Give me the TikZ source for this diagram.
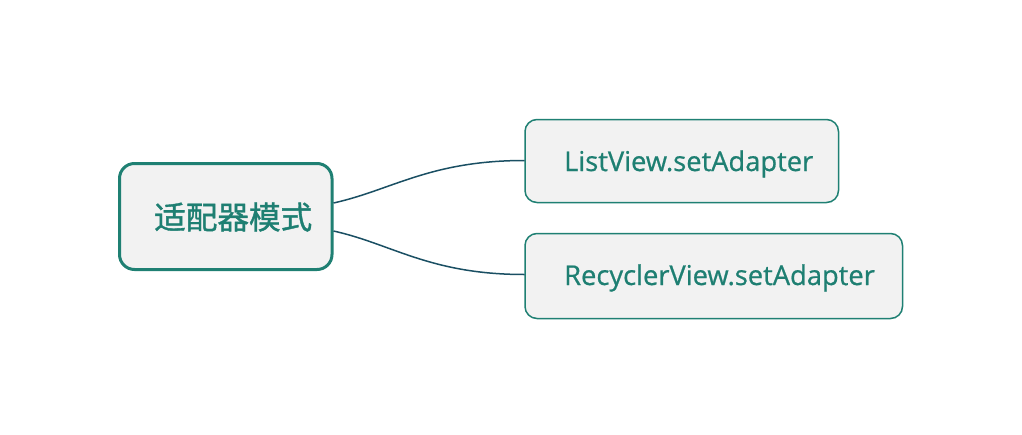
\documentclass[tikz,border=0pt]{standalone}
\usepackage{fontspec}
\setmainfont{Open Sans}
\newfontfamily\lblfont[FakeBold=0.7]{Open Sans}
\newfontfamily\cjk[FakeBold=1.2]{Noto Sans CJK SC}
\definecolor{teal1}{HTML}{1F8073}
\definecolor{txt}{HTML}{1E7F72}
\definecolor{lnk}{HTML}{1A4F63}
\definecolor{fillg}{HTML}{F2F2F2}
\begin{document}
\begin{tikzpicture}[x=1pt,y=-1pt,
  rootbox/.style={draw=teal1,line width=3pt,fill=fillg,rounded corners=15pt},
  childbox/.style={draw=teal1,line width=1.5pt,fill=fillg,rounded corners=12pt},
  lbl/.style={text=txt,inner sep=0pt,anchor=base west},
  link/.style={draw=lnk,line width=1.5pt}]
\useasboundingbox (0,0) rectangle (1022,434);
\draw[rootbox] (119.5,163.5) rectangle (332,269.5);
\draw[childbox] (525,119.5) rectangle (838.5,202.5);
\draw[childbox] (525,233.5) rectangle (902.5,318.5);
\node[lbl,font=\cjk\fontsize{31.6}{31.6}\selectfont] (root) at (154,229) {适配器模式};
\node[lbl,font=\lblfont\fontsize{27.3}{27.3}\selectfont] (c1) at (564,171) {ListView.setAdapter};
\node[lbl,font=\lblfont\fontsize{27.3}{27.3}\selectfont] (c2) at (564,285) {RecyclerView.setAdapter};
\coordinate (r1) at (333.5,203);
\coordinate (r2) at (333.5,231);
\coordinate (e1) at (524.5,160.5);
\coordinate (e2) at (524.5,274.5);
\draw[link] (r1) .. controls (392,190) and (430,160.5) .. (e1);
\draw[link] (r2) .. controls (392,244) and (430,274.5) .. (e2);
\end{tikzpicture}
\end{document}
